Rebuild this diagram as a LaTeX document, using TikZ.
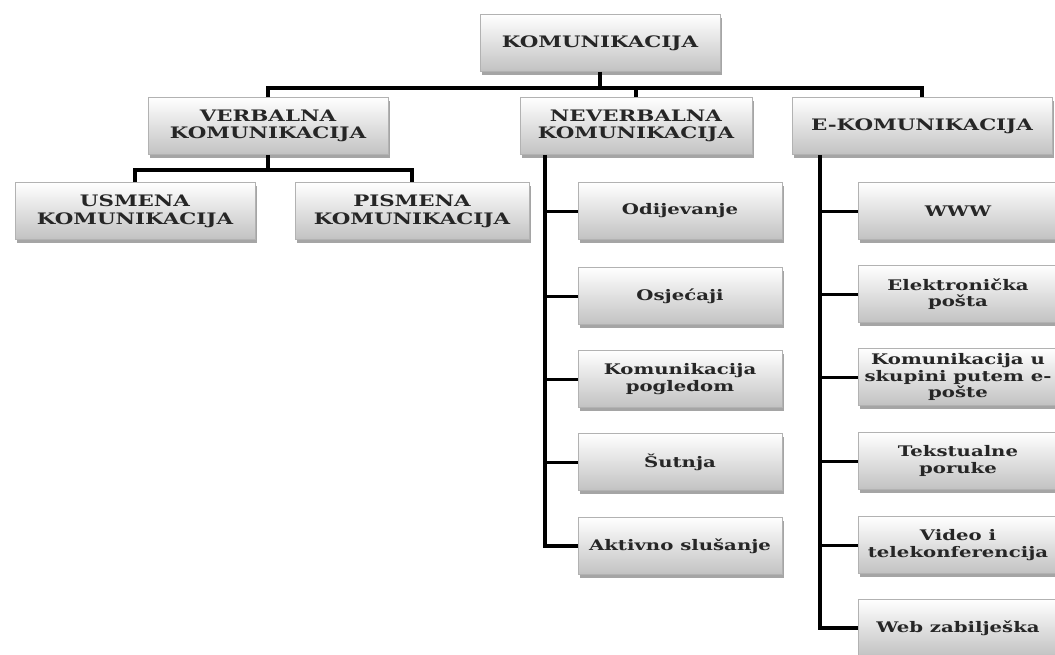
\documentclass[tikz,border=0pt]{standalone}
\usepackage{fontspec}
\setmainfont{DejaVu Serif}[FakeStretch=1.35]
\usepackage{tikz}
\usetikzlibrary{shadows, positioning}
\tikzset{
  box/.style={rectangle, top color=white, bottom color=gray!48,
              draw=gray!60, line width=0.4pt, text=black!85,
              align=center, inner sep=1pt,
              drop shadow={shadow xshift=0.9pt, shadow yshift=-1.8pt,
                           opacity=0.7}},
  boxT/.style={box, minimum height=1.14cm,
               font=\fontsize{9}{10}\selectfont\bfseries},
  boxC/.style={box, minimum width=4.08cm, minimum height=1.14cm,
               font=\fontsize{8.3}{9.2}\selectfont\bfseries},
  conn/.style={draw=black, line width=2.2pt},
  stub/.style={draw=black, line width=1.7pt},
}

\begin{document}
\begin{tikzpicture}[x=0.02cm, y=-0.02cm]

  \path[use as bounding box, fill=white] (0,0) rectangle (1055,654);

  % Top levels
  \node[boxT, minimum width=4.8cm]  (root) at (600,43)  {KOMUNIKACIJA};
  \node[boxT, minimum width=4.8cm]  (verb) at (268,126) {VERBALNA\\KOMUNIKACIJA};
  \node[boxT, minimum width=4.64cm] (nev)  at (636,126) {NEVERBALNA\\KOMUNIKACIJA};
  \node[boxT, minimum width=5.2cm]  (ekom) at (922,126) {E-KOMUNIKACIJA};
  \node[boxT, minimum width=4.8cm]  (usm)  at (135,211) {USMENA\\KOMUNIKACIJA};
  \node[boxT, minimum width=4.68cm] (pis)  at (412,211) {PISMENA\\KOMUNIKACIJA};

  % Neverbalna children
  \node[boxC] (odj) at (680,211) {Odijevanje};
  \node[boxC] (osj) at (680,296) {Osjećaji};
  \node[boxC] (pog) at (680,379) {Komunikacija\\pogledom};
  \node[boxC] (sut) at (680,462) {Šutnja};
  \node[boxC] (slu) at (680,546) {Aktivno slušanje};

  % E-komunikacija children
  \node[boxC, minimum width=4cm] (www)  at (958,211) {WWW};
  \node[boxC, minimum width=4cm] (epos) at (958,294) {Elektronička\\pošta};
  \node[boxC, minimum width=4cm] (grp)  at (958,377) {Komunikacija u\\skupini putem e-\\pošte};
  \node[boxC, minimum width=4cm] (sms)  at (958,461) {Tekstualne\\poruke};
  \node[boxC, minimum width=4cm] (vid)  at (958,545) {Video i\\telekonferencija};
  \node[boxC, minimum width=4cm] (blog) at (958,628) {Web zabilješka};

  % Bars and trunks
  \coordinate (bar)  at (0,88);
  \coordinate (vbar) at (0,170);
  \coordinate (ntr)  at (545,0);
  \coordinate (etr)  at (820,0);

  \draw[conn] (root.south) -- (root.south |- bar);
  \draw[conn] (verb.north) |- (bar -| ekom.north) -- (ekom.north);
  \draw[conn] (nev.north) -- (nev.north |- bar);

  \draw[conn] (verb.south) -- (verb.south |- vbar);
  \draw[conn] (usm.north) |- (vbar -| pis.north) -- (pis.north);

  \draw[conn] (nev.south -| ntr) |- (slu.west);
  \draw[conn] (ekom.south -| etr) |- (blog.west);
  \foreach \n in {odj, osj, pog, sut}
    \draw[stub] (\n.west) -- (\n.west -| ntr);
  \foreach \n in {www, epos, grp, sms, vid}
    \draw[stub] (\n.west) -- (\n.west -| etr);

\end{tikzpicture}
\end{document}
